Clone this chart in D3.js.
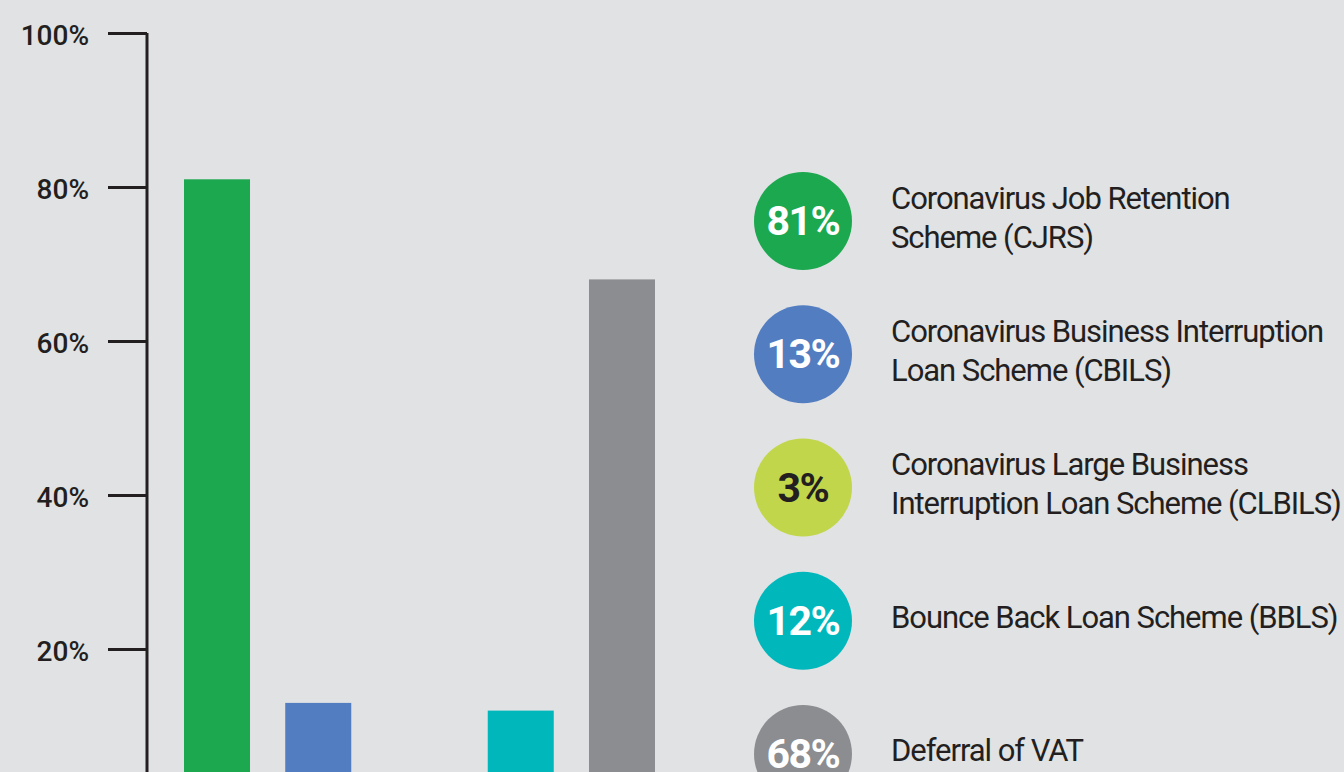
<!DOCTYPE html>
<html>
<head>
<meta charset="utf-8">
<script src="https://cdn.jsdelivr.net/npm/d3@7"></script>
<style>
	body { margin: 0; background: #e1e2e4; overflow: hidden; }
	svg { display: block; font-family: Roboto, "Noto Sans", sans-serif; }
</style>
</head>
<body>
<div id="chart"></div>
<script>

let schemes = ['CJRS', 'CBILS', 'CLBILS', 'BBLS', 'VAT']
let shares = [81, 13, 3, 12, 68]
let colours = ['#1ca84f', '#527dc1', '#c2d64b', '#00b8bc', '#8c8d90']
let labelColours = ['#ffffff', '#ffffff', '#231f20', '#ffffff', '#ffffff']
let legendLines = [
	['Coronavirus Job Retention', 'Scheme (CJRS)'],
	['Coronavirus Business Interruption', 'Loan Scheme (CBILS)'],
	['Coronavirus Large Business', 'Interruption Loan Scheme (CLBILS)'],
	['Bounce Back Loan Scheme (BBLS)'],
	['Deferral of VAT']
]
let yTicks = [20, 40, 60, 80, 100]

let width = 1344
let height = 772

const svg = d3.select('#chart')
	.append('svg')
	.attr('width', width)
	.attr('height', height)

svg.append('rect')
	.attr('width', width)
	.attr('height', height)
	.attr('fill', '#e1e2e4')

let x = d3.scaleBand()
	.domain(schemes)
	.range([184, 655])
	.paddingInner(0.348)
	.paddingOuter(0)

let y = d3.scaleLinear()
	.domain([0, 100])
	.range([803, 33])

// bars run off the bottom of the picture, like the original crop
svg.selectAll('.bar')
	.data(schemes)
	.enter()
	.append('rect')
	.attr('class', 'bar')
	.attr('x', d => x(d))
	.attr('y', (d, i) => y(shares[i]))
	.attr('width', x.bandwidth())
	.attr('height', (d, i) => y(0) - y(shares[i]))
	.attr('fill', (d, i) => colours[i])

let yAxis = g => g
	.attr('transform', 'translate(147,0)')
	.call(d3.axisLeft(y).tickValues(yTicks).tickSize(39).tickSizeOuter(0).tickPadding(19).tickFormat(d => d + '%'))
	.call(g => g.select('.domain').attr('stroke', '#231f20').attr('stroke-width', 3).attr('d', 'M0,' + y(100) + 'V' + height))
	.call(g => g.selectAll('.tick line').attr('stroke', '#231f20').attr('stroke-width', 3))
	.call(g => g.selectAll('.tick text')
		.attr('fill', '#231f20')
		.attr('dy', '0.42em')
		.attr('font-size', 28)
		.attr('font-weight', 500)
		.attr('letter-spacing', 0)
		.attr('font-family', 'Roboto, sans-serif'))

svg.append('g').call(yAxis)

let legendY = d3.scalePoint()
	.domain(schemes)
	.range([221, 754])

let legend = svg.selectAll('.legend')
	.data(schemes)
	.enter()
	.append('g')
	.attr('class', 'legend')
	.attr('transform', d => 'translate(803,' + legendY(d) + ')')

legend.append('circle')
	.attr('r', 49)
	.attr('fill', (d, i) => colours[i])

legend.append('text')
	.attr('text-anchor', 'middle')
	.attr('y', 14)
	.attr('font-size', 41)
	.attr('font-weight', 700)
	.attr('letter-spacing', -1.5)
	.attr('fill', (d, i) => labelColours[i])
	.text((d, i) => shares[i] + '%')

legend.each(function(d, i){
	let lines = legendLines[i]
	let g = d3.select(this)
	lines.forEach(function(line, j){
		g.append('text')
			.attr('x', 88)
			.attr('y', (j - (lines.length - 1) / 2) * 39 + 7)
			.attr('font-size', 31)
			.attr('letter-spacing', -1.05)
			.attr('fill', '#231f20')
			.text(line)
	})
})

</script>
</body>
</html>
